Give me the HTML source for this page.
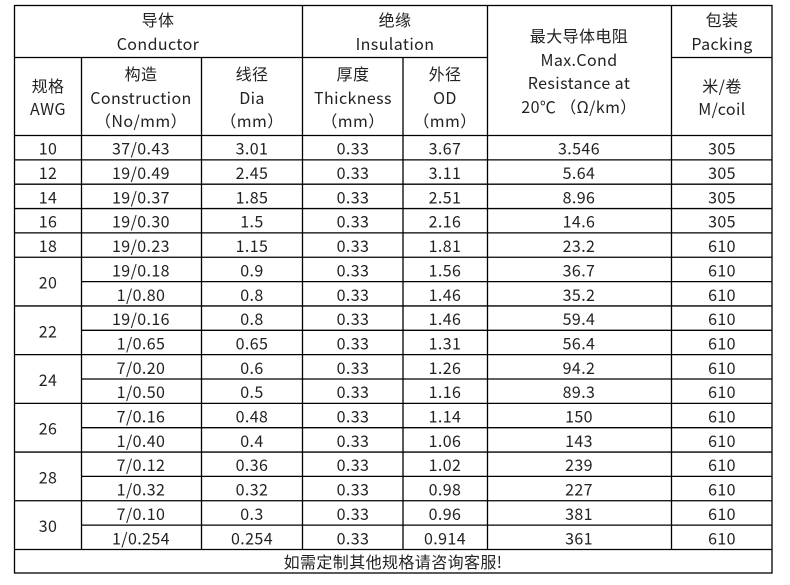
<!DOCTYPE html>
<html><head><meta charset="utf-8"><style>
html,body{margin:0;padding:0;background:#fff;width:790px;height:585px;overflow:hidden}
svg text{font-family:"Noto Sans CJK SC","Liberation Sans",sans-serif;font-size:16px;letter-spacing:0.4px;fill:#222;text-anchor:middle;dominant-baseline:central}
</style></head><body>
<svg width="790" height="585" xmlns="http://www.w3.org/2000/svg">
<g stroke="#000" stroke-width="1.3" fill="none">
<rect x="14.5" y="5.5" width="757.5" height="567.5"/>
<line x1="14.5" y1="57.5" x2="487.5" y2="57.5"/>
<line x1="671.5" y1="57.5" x2="772" y2="57.5"/>
<line x1="14.5" y1="135.5" x2="772" y2="135.5"/>
<line x1="302.5" y1="5.5" x2="302.5" y2="549.5"/>
<line x1="487.5" y1="5.5" x2="487.5" y2="549.5"/>
<line x1="671.5" y1="5.5" x2="671.5" y2="549.5"/>
<line x1="81.5" y1="57.5" x2="81.5" y2="549.5"/>
<line x1="201.5" y1="57.5" x2="201.5" y2="549.5"/>
<line x1="403" y1="57.5" x2="403" y2="549.5"/>
<line x1="14.5" y1="549.5" x2="772" y2="549.5"/>
<line x1="14.5" y1="159.85" x2="772" y2="159.85"/>
<line x1="14.5" y1="184.2" x2="772" y2="184.2"/>
<line x1="14.5" y1="208.55" x2="772" y2="208.55"/>
<line x1="14.5" y1="232.9" x2="772" y2="232.9"/>
<line x1="14.5" y1="257.25" x2="772" y2="257.25"/>
<line x1="14.5" y1="305.95" x2="772" y2="305.95"/>
<line x1="14.5" y1="354.65" x2="772" y2="354.65"/>
<line x1="14.5" y1="403.35" x2="772" y2="403.35"/>
<line x1="14.5" y1="452.05" x2="772" y2="452.05"/>
<line x1="14.5" y1="500.75" x2="772" y2="500.75"/>
<line x1="81.5" y1="281.6" x2="772" y2="281.6"/>
<line x1="81.5" y1="330.3" x2="772" y2="330.3"/>
<line x1="81.5" y1="379" x2="772" y2="379"/>
<line x1="81.5" y1="427.7" x2="772" y2="427.7"/>
<line x1="81.5" y1="476.4" x2="772" y2="476.4"/>
<line x1="81.5" y1="525.1" x2="772" y2="525.1"/>
</g>
<text x="158" y="19">导体</text><text x="158" y="43">Conductor</text>
<text x="395" y="19">绝缘</text><text x="395" y="43">Insulation</text>
<text x="579" y="35">最大导体电阻</text><text x="579" y="59">Max.Cond</text><text x="579" y="82">Resistance at</text><text x="579" y="106">20℃ （Ω/km）</text>
<text x="722" y="19">包装</text><text x="722" y="43">Packing</text>
<text x="722" y="85">米/卷</text><text x="722" y="108">M/coil</text>
<text x="48" y="85">规格</text><text x="48" y="108">AWG</text>
<text x="141" y="73">构造</text><text x="141" y="97">Construction</text><text x="141" y="120">（No/mm）</text>
<text x="252" y="73">线径</text><text x="252" y="97">Dia</text><text x="252" y="120">（mm）</text>
<text x="353" y="73">厚度</text><text x="353" y="97">Thickness</text><text x="353" y="120">（mm）</text>
<text x="445" y="73">外径</text><text x="445" y="97">OD</text><text x="445" y="120">（mm）</text>
<text x="48" y="147.7">10</text><text x="48" y="172">12</text><text x="48" y="196.4">14</text><text x="48" y="220.7">16</text><text x="48" y="245.1">18</text>
<text x="48" y="281.6">20</text><text x="48" y="330.3">22</text><text x="48" y="379">24</text><text x="48" y="427.7">26</text><text x="48" y="476.4">28</text><text x="48" y="525.1">30</text>
<g>
<text x="141" y="147.7">37/0.43</text><text x="252" y="147.7">3.01</text><text x="353" y="147.7">0.33</text><text x="445" y="147.7">3.67</text><text x="579" y="147.7">3.546</text><text x="722" y="147.7">305</text>
<text x="141" y="172">19/0.49</text><text x="252" y="172">2.45</text><text x="353" y="172">0.33</text><text x="445" y="172">3.11</text><text x="579" y="172">5.64</text><text x="722" y="172">305</text>
<text x="141" y="196.4">19/0.37</text><text x="252" y="196.4">1.85</text><text x="353" y="196.4">0.33</text><text x="445" y="196.4">2.51</text><text x="579" y="196.4">8.96</text><text x="722" y="196.4">305</text>
<text x="141" y="220.7">19/0.30</text><text x="252" y="220.7">1.5</text><text x="353" y="220.7">0.33</text><text x="445" y="220.7">2.16</text><text x="579" y="220.7">14.6</text><text x="722" y="220.7">305</text>
<text x="141" y="245.1">19/0.23</text><text x="252" y="245.1">1.15</text><text x="353" y="245.1">0.33</text><text x="445" y="245.1">1.81</text><text x="579" y="245.1">23.2</text><text x="722" y="245.1">610</text>
<text x="141" y="269.4">19/0.18</text><text x="252" y="269.4">0.9</text><text x="353" y="269.4">0.33</text><text x="445" y="269.4">1.56</text><text x="579" y="269.4">36.7</text><text x="722" y="269.4">610</text>
<text x="141" y="293.8">1/0.80</text><text x="252" y="293.8">0.8</text><text x="353" y="293.8">0.33</text><text x="445" y="293.8">1.46</text><text x="579" y="293.8">35.2</text><text x="722" y="293.8">610</text>
<text x="141" y="318.1">19/0.16</text><text x="252" y="318.1">0.8</text><text x="353" y="318.1">0.33</text><text x="445" y="318.1">1.46</text><text x="579" y="318.1">59.4</text><text x="722" y="318.1">610</text>
<text x="141" y="342.5">1/0.65</text><text x="252" y="342.5">0.65</text><text x="353" y="342.5">0.33</text><text x="445" y="342.5">1.31</text><text x="579" y="342.5">56.4</text><text x="722" y="342.5">610</text>
<text x="141" y="366.8">7/0.20</text><text x="252" y="366.8">0.6</text><text x="353" y="366.8">0.33</text><text x="445" y="366.8">1.26</text><text x="579" y="366.8">94.2</text><text x="722" y="366.8">610</text>
<text x="141" y="391.2">1/0.50</text><text x="252" y="391.2">0.5</text><text x="353" y="391.2">0.33</text><text x="445" y="391.2">1.16</text><text x="579" y="391.2">89.3</text><text x="722" y="391.2">610</text>
<text x="141" y="415.5">7/0.16</text><text x="252" y="415.5">0.48</text><text x="353" y="415.5">0.33</text><text x="445" y="415.5">1.14</text><text x="579" y="415.5">150</text><text x="722" y="415.5">610</text>
<text x="141" y="439.9">1/0.40</text><text x="252" y="439.9">0.4</text><text x="353" y="439.9">0.33</text><text x="445" y="439.9">1.06</text><text x="579" y="439.9">143</text><text x="722" y="439.9">610</text>
<text x="141" y="464.2">7/0.12</text><text x="252" y="464.2">0.36</text><text x="353" y="464.2">0.33</text><text x="445" y="464.2">1.02</text><text x="579" y="464.2">239</text><text x="722" y="464.2">610</text>
<text x="141" y="488.6">1/0.32</text><text x="252" y="488.6">0.32</text><text x="353" y="488.6">0.33</text><text x="445" y="488.6">0.98</text><text x="579" y="488.6">227</text><text x="722" y="488.6">610</text>
<text x="141" y="512.9">7/0.10</text><text x="252" y="512.9">0.3</text><text x="353" y="512.9">0.33</text><text x="445" y="512.9">0.96</text><text x="579" y="512.9">381</text><text x="722" y="512.9">610</text>
<text x="141" y="537.3">1/0.254</text><text x="252" y="537.3">0.254</text><text x="353" y="537.3">0.33</text><text x="445" y="537.3">0.914</text><text x="579" y="537.3">361</text><text x="722" y="537.3">610</text>
</g>
<text x="393" y="561">如需定制其他规格请咨询客服!</text>
</svg>
</body></html>
